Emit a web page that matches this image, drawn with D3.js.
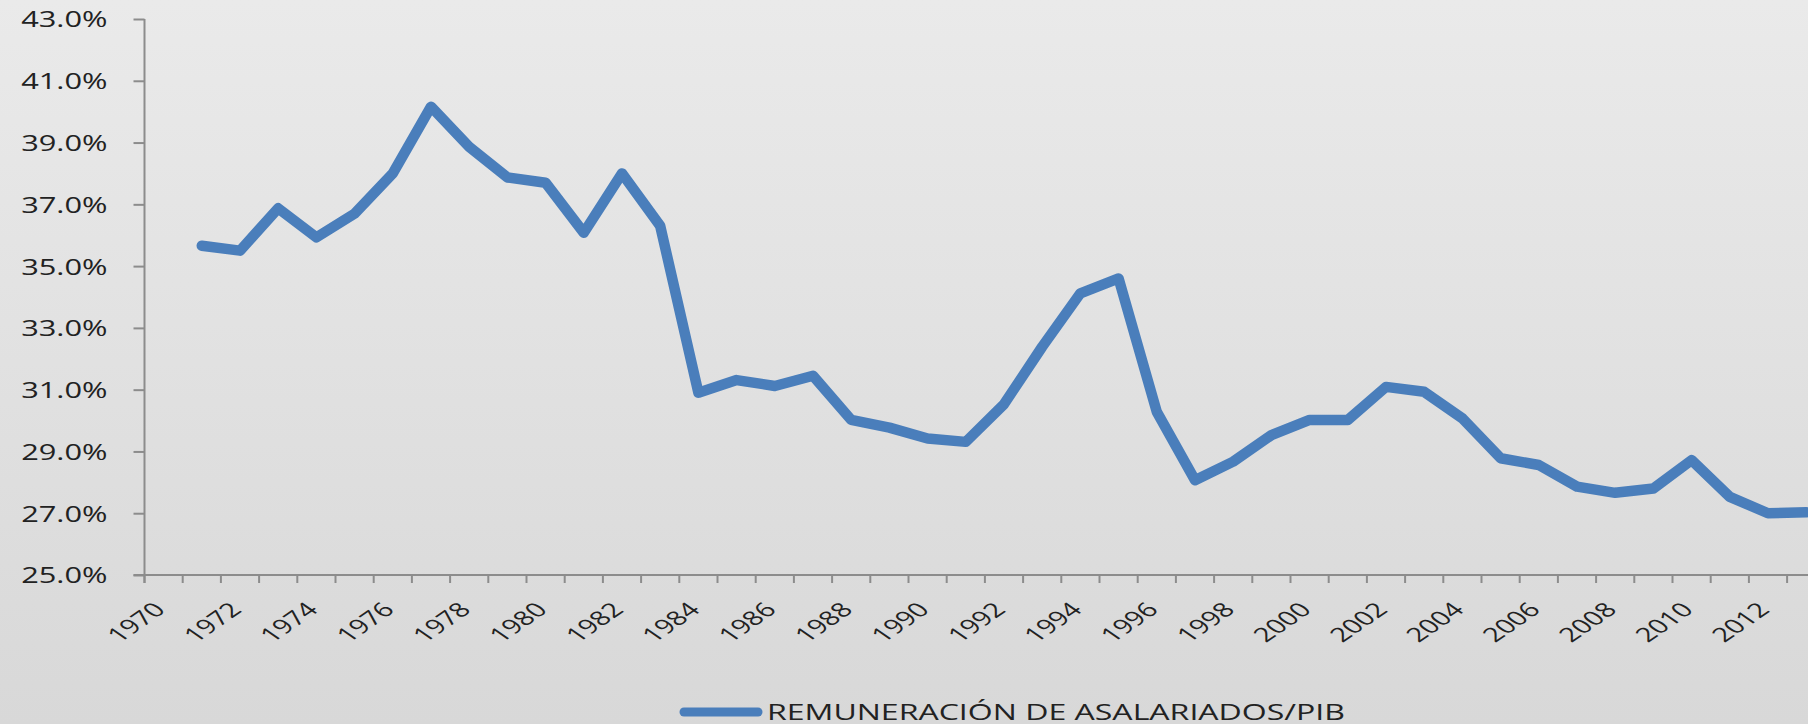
<!DOCTYPE html>
<html>
<head>
<meta charset="utf-8">
<script src="https://cdn.jsdelivr.net/npm/d3@7"></script>
<style>
  html, body { margin: 0; padding: 0; overflow: hidden; }
  svg { display: block; }
</style>
</head>
<body>
<svg id="chart"></svg>
<script>
const width = 1808;
const height = 724;

// categories on the x axis (one per year)
const categories = [
  1970, 1971, 1972, 1973, 1974, 1975, 1976, 1977, 1978, 1979,
  1980, 1981, 1982, 1983, 1984, 1985, 1986, 1987, 1988, 1989,
  1990, 1991, 1992, 1993, 1994, 1995, 1996, 1997, 1998, 1999,
  2000, 2001, 2002, 2003, 2004, 2005, 2006, 2007, 2008, 2009,
  2010, 2011, 2012, 2013
];

// years that have a value
const seriesYears = [
  1971, 1972, 1973, 1974, 1975, 1976, 1977, 1978, 1979, 1980,
  1981, 1982, 1983, 1984, 1985, 1986, 1987, 1988, 1989, 1990,
  1991, 1992, 1993, 1994, 1995, 1996, 1997, 1998, 1999, 2000,
  2001, 2002, 2003, 2004, 2005, 2006, 2007, 2008, 2009, 2010,
  2011, 2012, 2013
];

// remuneracion de asalariados / PIB, in %
const remuneracion = [
  35.66, 35.50, 36.87, 35.93, 36.70, 38.00, 40.16, 38.86, 37.87, 37.70,
  36.08, 38.00, 36.30, 30.90, 31.31, 31.12, 31.45, 30.02, 29.77, 29.42,
  29.31, 30.53, 32.39, 34.12, 34.60, 30.28, 28.07, 28.67, 29.53, 30.02,
  30.02, 31.09, 30.93, 30.07, 28.78, 28.56, 27.86, 27.66, 27.80, 28.72,
  27.53, 27.00, 27.03
];

const yTicks = [25, 27, 29, 31, 33, 35, 37, 39, 41, 43];
const xLabelYears = [
  1970, 1972, 1974, 1976, 1978, 1980, 1982, 1984, 1986, 1988, 1990,
  1992, 1994, 1996, 1998, 2000, 2002, 2004, 2006, 2008, 2010, 2012
];
const seriesName = "REMUNERACIÓN DE ASALARIADOS/PIB";

const blue = "#4a7ebb";
const axisGrey = "#8c8c8c";
const textColor = "#222222";

const svg = d3.select("#chart").attr("width", width).attr("height", height);

// background gradient
const defs = svg.append("defs");
const grad = defs.append("linearGradient")
  .attr("id", "bg")
  .attr("x1", 0).attr("y1", 0).attr("x2", 0).attr("y2", 1);
grad.append("stop").attr("offset", "0%").attr("stop-color", "#eaeaea");
grad.append("stop").attr("offset", "100%").attr("stop-color", "#d8d8d8");
svg.append("rect").attr("width", width).attr("height", height).attr("fill", "url(#bg)");

const plotLeft = 144.5;
const catWidth = 38.2;

const x = d3.scaleBand()
  .domain(categories)
  .range([plotLeft, plotLeft + catWidth * categories.length])
  .padding(0);

const y = d3.scaleLinear().domain([25, 43]).range([575, 19]);

// y axis
const yAxis = d3.axisLeft(y)
  .tickValues(yTicks)
  .tickFormat(d => d.toFixed(1) + "%")
  .tickSize(11)
  .tickSizeOuter(0);

const gy = svg.append("g")
  .attr("transform", `translate(${plotLeft},0)`)
  .call(yAxis);
gy.select(".domain").remove();
gy.selectAll(".tick line").attr("stroke", axisGrey).attr("stroke-width", 2);
gy.selectAll(".tick text")
  .attr("x", 0)
  .attr("dy", "0.36em")
  .attr("fill", textColor)
  .style("font-family", "'Open Sans', sans-serif")
  .style("font-size", "22px")
  .attr("transform", "translate(-37,0) scale(1.4,1)");

// x axis (ticks between categories, label every second year)
const xAxis = d3.axisBottom(x)
  .tickValues(categories)
  .tickFormat(d => xLabelYears.includes(d) ? d : "")
  .tickSize(8)
  .tickSizeOuter(0);

const gx = svg.append("g")
  .attr("transform", `translate(0,${y(25)})`)
  .call(xAxis);
gx.select(".domain").remove();
gx.selectAll(".tick line")
  .attr("x1", -x.bandwidth() / 2)
  .attr("x2", -x.bandwidth() / 2)
  .attr("stroke", axisGrey)
  .attr("stroke-width", 2);
gx.selectAll(".tick text")
  .attr("y", 0)
  .attr("dy", null)
  .attr("text-anchor", "end")
  .attr("fill", textColor)
  .style("font-family", "'Open Sans', sans-serif")
  .style("font-size", "20px")
  .attr("transform", "translate(3,36) scale(1.45,1) rotate(-45)");

// axis lines
svg.append("line")
  .attr("x1", plotLeft).attr("x2", plotLeft)
  .attr("y1", y(43)).attr("y2", y(25) + 8)
  .attr("stroke", axisGrey).attr("stroke-width", 2);
svg.append("line")
  .attr("x1", plotLeft - 11).attr("x2", x.range()[1])
  .attr("y1", y(25)).attr("y2", y(25))
  .attr("stroke", axisGrey).attr("stroke-width", 2);

// series line
const points = seriesYears.map((yr, i) => [yr, remuneracion[i]]);
const line = d3.line()
  .x(d => x(d[0]) + x.bandwidth() / 2)
  .y(d => y(d[1]));

svg.append("path")
  .datum(points)
  .attr("d", line)
  .attr("fill", "none")
  .attr("stroke", blue)
  .attr("stroke-width", 10.5)
  .attr("stroke-linejoin", "round")
  .attr("stroke-linecap", "round");

// legend
const legend = svg.append("g").attr("transform", "translate(0,712)");
legend.append("line")
  .attr("x1", 684).attr("x2", 758)
  .attr("y1", 0).attr("y2", 0)
  .attr("stroke", blue)
  .attr("stroke-width", 9)
  .attr("stroke-linecap", "round");
legend.append("text")
  .attr("x", 767)
  .attr("y", 7.5)
  .attr("fill", textColor)
  .attr("textLength", 578)
  .attr("lengthAdjust", "spacingAndGlyphs")
  .style("font-family", "'Open Sans', sans-serif")
  .style("font-size", "21.5px")
  .text(seriesName);
</script>
</body>
</html>
